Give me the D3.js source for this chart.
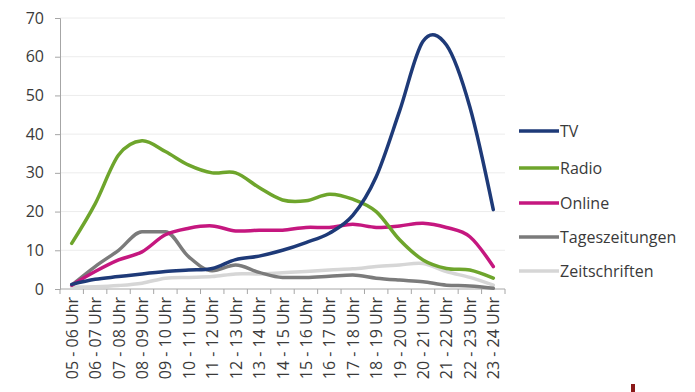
<!DOCTYPE html>
<html>
<head>
<meta charset="utf-8">
<script src="https://cdn.jsdelivr.net/npm/d3@7"></script>
<style>
  body { margin: 0; background: #fff; }
  svg text { font-family: "Open Sans", "Noto Sans", sans-serif; fill: #3a3a3a; }
</style>
</head>
<body>
<svg id="chart" width="695" height="392"></svg>
<script>
const hours = ["05 - 06 Uhr","06 - 07 Uhr","07 - 08 Uhr","08 - 09 Uhr","09 - 10 Uhr","10 - 11 Uhr",
  "11 - 12 Uhr","12 - 13 Uhr","13 - 14 Uhr","14 - 15 Uhr","15 - 16 Uhr","16 - 17 Uhr","17 - 18 Uhr",
  "18 - 19 Uhr","19 - 20 Uhr","20 - 21 Uhr","21 - 22 Uhr","22 - 23 Uhr","23 - 24 Uhr"]
const y_ticks = [0,10,20,30,40,50,60,70]

const tv       = [1.2,2.5,3.2,3.9,4.5,4.9,5.3,7.6,8.5,10,12,14.4,19,29,46,64,63,47,20.5]
const radio    = [11.8,22,34.6,38.3,35.5,32,30,30,26.2,23,22.8,24.5,23.2,20,12.7,7.5,5.3,4.9,2.8]
const online   = [1,4.5,7.5,9.6,14,15.7,16.3,15,15.2,15.2,15.9,15.9,16.7,15.9,16.3,17,15.9,13.5,5.8]
const zeitung  = [1,5.8,10,14.8,14.8,8.3,4.7,6.2,4.3,3,3,3.3,3.6,2.8,2.3,1.9,1,0.8,0.2]
const zeitschr = [0.5,0.6,0.9,1.5,2.8,3,3.2,3.9,3.9,4.2,4.5,4.9,5.2,5.8,6.2,6.6,4.5,3,1]

const series = [
  {name: "TV", values: tv, color: "#1e3a78"},
  {name: "Radio", values: radio, color: "#6ea52c"},
  {name: "Online", values: online, color: "#c5177f"},
  {name: "Tageszeitungen", values: zeitung, color: "#7b7b7b", flat: true},
  {name: "Zeitschriften", values: zeitschr, color: "#d6d6d6"}
]

const svg = d3.select("#chart")
const m_left = 60, m_right = 505, m_top = 18, m_bottom = 289

const x = d3.scaleBand().domain(hours).range([m_left, m_right]).padding(0)
const y = d3.scaleLinear().domain([0, 70]).range([m_bottom, m_top])

// gridlines
svg.append("g").selectAll("line").data(y_ticks.filter(d => d > 0)).join("line")
  .attr("x1", m_left).attr("x2", m_right)
  .attr("y1", d => y(d)).attr("y2", d => y(d))
  .attr("stroke", "#ececec").attr("stroke-width", 1)

// y axis
const yAxis = svg.append("g").attr("transform", `translate(${m_left},0)`)
  .call(d3.axisLeft(y).tickValues(y_ticks).tickSize(5).tickPadding(11))
yAxis.select(".domain").attr("stroke", "#a6a6a6")
yAxis.selectAll(".tick line").attr("stroke", "#a6a6a6")
yAxis.selectAll("text").style("font-size", "16px").style("fill", "#3a3a3a")

// x axis baseline with ticks between categories
const xg = svg.append("g")
xg.append("line").attr("x1", m_left).attr("x2", m_right).attr("y1", m_bottom).attr("y2", m_bottom)
  .attr("stroke", "#a6a6a6")
xg.selectAll(".xt").data(hours.concat(["end"])).join("line").attr("class", "xt")
  .attr("x1", (d, i) => m_left + i * x.bandwidth()).attr("x2", (d, i) => m_left + i * x.bandwidth())
  .attr("y1", m_bottom).attr("y2", m_bottom + 5).attr("stroke", "#a6a6a6")
xg.selectAll("text").data(hours).join("text")
  .attr("transform", d => `translate(${x(d) + x.bandwidth() / 2 + 6},${m_bottom + 8}) rotate(-90)`)
  .attr("text-anchor", "end")
  .style("font-size", "16px")
  .text(d => d)

// lines
const smooth = d3.line()
  .x((d, i) => x(hours[i]) + x.bandwidth() / 2)
  .y(d => y(d))
  .curve(d3.curveCardinal.tension(0))
const mono = d3.line()
  .x((d, i) => x(hours[i]) + x.bandwidth() / 2)
  .y(d => y(d))
  .curve(d3.curveMonotoneX)

svg.append("g").selectAll("path").data(series.slice().reverse()).join("path")
  .attr("d", d => d.flat ? mono(d.values) : smooth(d.values))
  .attr("fill", "none")
  .attr("stroke", d => d.color)
  .attr("stroke-width", 3.5)
  .attr("stroke-linejoin", "round")
  .attr("stroke-linecap", "round")

// legend
const legendY = [131, 168, 203, 237, 271]
const lg = svg.append("g").selectAll("g").data(series).join("g")
  .attr("transform", (d, i) => `translate(519,${legendY[i]})`)
lg.append("line").attr("x1", 0).attr("x2", 40).attr("y1", 0).attr("y2", 0)
  .attr("stroke", d => d.color).attr("stroke-width", 3.5)
lg.append("text").attr("x", 41).attr("y", 6).style("font-size", "16px").text(d => d.name)

// small logo mark bottom right
svg.append("rect").attr("x", 631).attr("y", 384).attr("width", 4).attr("height", 8).attr("fill", "#8b1a1a")
</script>
</body>
</html>
